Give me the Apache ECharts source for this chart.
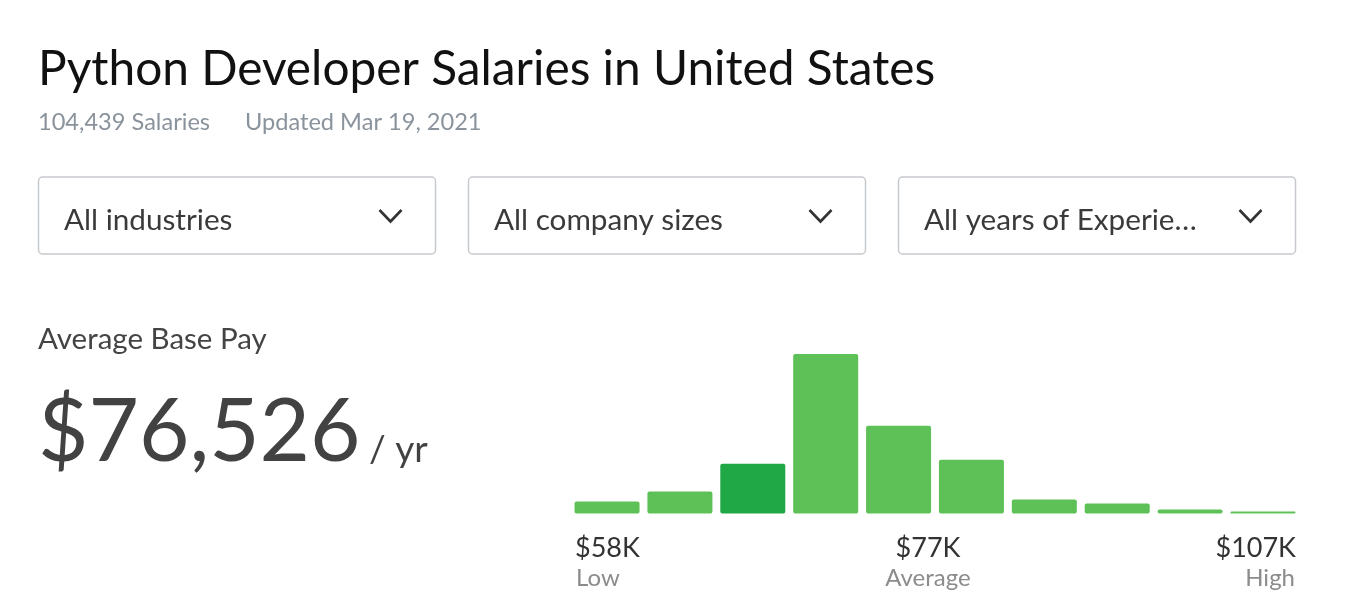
<!DOCTYPE html>
<html>
<head>
<meta charset="utf-8">
<script src="https://cdn.jsdelivr.net/npm/echarts@6/dist/echarts.min.js"></script>
<style>
html,body{margin:0;padding:0;background:#fff;}
#chart{width:1366px;height:614px;}
</style>
</head>
<body>
<div id="chart"></div>
<script>
// ---- data ----
const titleText = 'Python Developer Salaries in United States';
const salaryCount = '104,439 Salaries';
const updatedText = 'Updated Mar 19, 2021';
const filters = ['All industries', 'All company sizes', 'All years of Experie\u2026'];
const payLabel = 'Average Base Pay';
const payValue = '$76,526';
const payUnit = '/ yr';
const bins = ['b1','b2','b3','b4','b5','b6','b7','b8','b9','b10'];
const binValues = [12, 22, 50, 160, 88, 54, 14, 10, 4, 2];
const highlightIndex = 2;
const tickValues = ['$58K', '$77K', '$107K'];
const tickNames = ['Low', 'Average', 'High'];

const FONT = 'Lato, "Noto Sans", sans-serif';
const chart = echarts.init(document.getElementById('chart'), null, {renderer: 'canvas'});

const graphics = [];
graphics.push({type:'text', x:38, y:70, style:{text:titleText, font:'400 47.8px ' + FONT, fill:'#111', verticalAlign:'middle'}});
graphics.push({type:'text', x:38, y:122, style:{text:salaryCount, font:'400 23.6px ' + FONT, fill:'#8a939c', verticalAlign:'middle'}});
graphics.push({type:'text', x:245, y:122, style:{text:updatedText, font:'400 23.6px ' + FONT, fill:'#8a939c', verticalAlign:'middle'}});

const boxX = [38.5, 468.5, 898.5];
filters.forEach((f, i) => {
  const x = boxX[i];
  graphics.push({type:'rect', shape:{x:x, y:177, width:397, height:77, r:4},
    style:{fill:'#fff', stroke:'#c6c9cd', lineWidth:1.5}});
  graphics.push({type:'text', x:x + 25.5, y:220.5, style:{text:f, font:'400 29.7px ' + FONT, fill:'#3a3a3a', verticalAlign:'middle'}});
  graphics.push({type:'polyline', shape:{points:[[x + 341, 210], [x + 352, 221.5], [x + 363, 210]]},
    style:{stroke:'#333', lineWidth:2.6, fill:null}});
});

graphics.push({type:'text', x:38, y:339, style:{text:payLabel, font:'400 29.5px ' + FONT, fill:'#444', verticalAlign:'middle'}});
graphics.push({type:'text', x:38, y:433, style:{text:payValue, font:'400 87px ' + FONT, fill:'#424242', verticalAlign:'middle'}});
graphics.push({type:'text', x:369, y:450, style:{text:payUnit, font:'400 37px ' + FONT, fill:'#424242', verticalAlign:'middle'}});

// tick labels under histogram
const tickX = [575, 928, 1296];
const tickAlign = ['left', 'center', 'right'];
tickValues.forEach((t, i) => {
  graphics.push({type:'text', x:tickX[i], y:548, style:{text:t, font:'400 27px ' + FONT, fill:'#333', align:tickAlign[i], verticalAlign:'middle'}});
  graphics.push({type:'text', x:tickX[i] + (i===2 ? -1 : (i===0?1:0)), y:578, style:{text:tickNames[i], font:'400 24px ' + FONT, fill:'#8c8c8c', align:tickAlign[i], verticalAlign:'middle'}});
});

chart.setOption({
  animation:false,
  grid:{left:570.6, top:354, width:728.8, height:159.5, containLabel:false},
  xAxis:{type:'category', data:bins, show:false, boundaryGap:true},
  yAxis:{type:'value', min:0, max:160, show:false},
  series:[{
    type:'bar',
    data:binValues.map((v, i) => ({value:v, itemStyle:{color: i === highlightIndex ? '#20a847' : '#5ec157'}})),
    barWidth:65,
    itemStyle:{borderRadius:2}
  }],
  graphic:graphics
});
</script>
</body>
</html>
